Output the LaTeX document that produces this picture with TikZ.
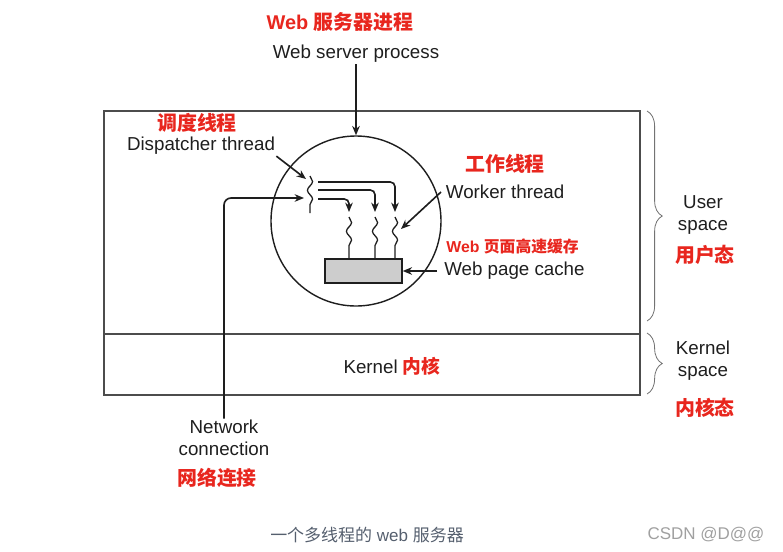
\documentclass[tikz,border=0pt]{standalone}
\usepackage{fontspec}
\setmainfont{Liberation Sans}
\newfontfamily\cjk{Noto Sans CJK SC}
\usetikzlibrary{arrows.meta,decorations.pathmorphing,decorations.pathreplacing}
\definecolor{hlred}{RGB}{232,38,30}
\definecolor{ink}{RGB}{30,30,30}
\definecolor{capgray}{RGB}{85,95,110}
\definecolor{markgray}{RGB}{160,160,160}
\definecolor{cachegray}{RGB}{205,205,205}
\newcommand{\zh}[1]{{\cjk #1}}

\begin{document}
\begin{tikzpicture}[x=0.03cm,y=-0.03cm,
  lbl/.style={text=ink,font=\fontsize{16}{19}\selectfont,inner sep=1pt},
  redlbl/.style={text=hlred,font=\fontsize{17}{20}\selectfont\bfseries,inner sep=1pt},
  arr/.style={-{Stealth[length=8pt,width=6.5pt]},line width=1.4pt,draw=ink},
  wavy/.style={decorate,decoration={snake,amplitude=2.2pt,segment length=15pt,post length=6pt},line width=1.1pt,draw=ink},
  frame/.style={draw=black!70,line width=1.4pt},
  brc/.style={decorate,decoration={brace,amplitude=13pt},draw=black!55,line width=0.7pt}]
\useasboundingbox (0,0) rectangle (783,551);

% user and kernel space
\draw[frame] (104,111) rectangle (640,395);
\draw[frame] (104,334) -- (640,334);
\node[lbl] (kern) at (392,366) {Kernel \textcolor{hlred}{\bfseries\zh{内核}}};
\draw[brc] (647,111) -- (647,321);
\draw[brc] (647,333) -- (647,394);
\node[lbl, align=center] (usr) at (703,215) {User\\space};
\node[redlbl] (usr-zh) at (705,255) {\zh{用户态}};
\node[lbl, align=center] (ksp) at (703,361) {Kernel\\space};
\node[redlbl] (ksp-zh) at (705,408) {\zh{内核态}};

% the process
\node[draw=ink, circle, line width=1.2pt, minimum size=5.1cm, inner sep=0pt] (proc) at (356,221) {};
\node[redlbl] (wsp-zh) at (340,22) {Web \zh{服务器进程}};
\node[lbl] (wsp) at (356,54) {Web server process};
\draw[arr] (wsp.south) -- (proc.north);

% threads
\coordinate (dtop) at (310,176);
\coordinate (dbot) at (310,213);
\draw[wavy, decoration={post length=0pt}] (dtop) -- (dbot);
\node[draw=ink, fill=cachegray, line width=1.2pt, minimum width=2.31cm, minimum height=0.72cm, inner sep=0pt] (cache) at (363.5,271) {};
\foreach \x/\n in {349/1,375/2,395/3} {
  \coordinate (a\n) at (\x,212);
  \draw[wavy] (\x,217) -- (\x,259);
}
\draw[arr, rounded corners=4pt] (318,182) -| (a3);
\draw[arr, rounded corners=4pt] (318,190) -| (a2);
\draw[arr, rounded corners=4pt] (318,199) -| (a1);
\coordinate (w3m) at (401,229);

% labels
\node[redlbl] (disp-zh) at (197,123) {\zh{调度线程}};
\node[lbl] (disp) at (201,146) {Dispatcher thread};
\draw[arr] (disp.south east) -- ([shift={(-4,3)}]dtop);
\node[redlbl] (wkr-zh) at (505,164) {\zh{工作线程}};
\node[lbl, anchor=west, inner xsep=4pt] (wkr) at (441,192) {Worker thread};
\draw[arr] (wkr.west) -- (w3m);
\node[redlbl, font=\fontsize{13.5}{16}\selectfont\bfseries, anchor=west] (cache-zh) at (445,246) {Web \zh{页面高速缓存}};
\node[lbl, anchor=west, inner xsep=6pt] (cachelbl) at (437,271) {Web page cache};
\draw[arr] (cachelbl.west) -- (cache.east);

% network
\node[lbl, align=center] (net) at (224,438) {Network\\connection};
\node[redlbl] (net-zh) at (217,478) {\zh{网络连接}};
\coordinate (nin) at (304,198);
\draw[arr, rounded corners=6pt] (net.north) |- (nin);

% caption
\node[text=capgray, font=\fontsize{14.5}{17}\selectfont] (cap) at (367,535) {\zh{一个多线程的} web \zh{服务器}};
\node[text=markgray, font=\fontsize{14.5}{17}\selectfont] (mark) at (706,535) {CSDN @D@@};
\end{tikzpicture}
\end{document}
